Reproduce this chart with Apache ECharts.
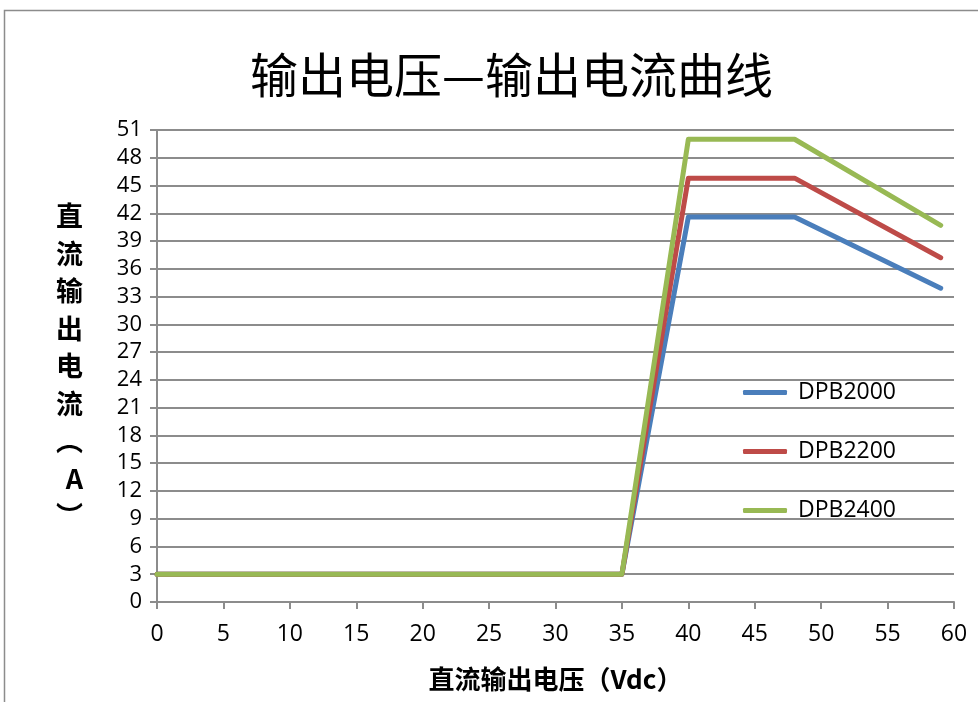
<!DOCTYPE html>
<html>
<head>
<meta charset="utf-8">
<script src="https://cdn.jsdelivr.net/npm/echarts@6/dist/echarts.min.js"></script>
<style>
html,body{margin:0;padding:0;background:#fff;}
#chart{width:978px;height:702px;}
</style>
</head>
<body>
<div id="chart"></div>
<script>
// Output voltage (Vdc) breakpoints shared by every model
const voltage = [0, 35, 40, 48, 59];
// Output current (A) at each breakpoint
const dpb2000 = [3, 3, 41.6, 41.6, 33.9];
const dpb2200 = [3, 3, 45.8, 45.8, 37.2];
const dpb2400 = [3, 3, 50, 50, 40.7];
const seriesNames = ['DPB2000', 'DPB2200', 'DPB2400'];
const seriesColors = ['#4a7ebb', '#be4b48', '#98b954'];

const yName = '直流输出电流︵A︶';

function pairs(ys) { return voltage.map((v, i) => [v, ys[i]]); }

const chart = echarts.init(document.getElementById('chart'), null, { renderer: 'canvas' });
const labelFont = '"Open Sans", "Noto Sans", sans-serif';
const cjkFont = '"Noto Sans CJK SC", sans-serif';

chart.setOption({
  backgroundColor: '#fff',
  animation: false,
  title: {
    text: '输出电压—输出电流曲线',
    left: 245,
    top: 46,
    textStyle: { fontFamily: cjkFont, fontSize: 48, fontWeight: 'normal', color: '#000' }
  },
  graphic: [{
    type: 'rect',
    shape: { x: 4.5, y: 10.5, width: 1000, height: 720 },
    style: { fill: 'none', stroke: '#8c8c8c', lineWidth: 1.5 },
    silent: true
  }],
  legend: {
    orient: 'vertical',
    left: 738,
    top: 376,
    itemWidth: 44,
    itemHeight: 5,
    itemGap: 36,
    icon: 'roundRect',
    data: seriesNames,
    textStyle: { fontFamily: labelFont, fontSize: 23, color: '#000', padding: [0, 0, 0, 6] }
  },
  grid: { left: 157, right: 24, top: 130, bottom: 100, containLabel: false },
  xAxis: {
    type: 'value',
    min: 0, max: 60, interval: 5,
    name: '直流输出电压（Vdc）',
    nameLocation: 'middle',
    nameGap: 64,
    nameTextStyle: { fontFamily: cjkFont, fontSize: 26, fontWeight: 'bold', color: '#000' },
    axisLine: { lineStyle: { color: '#8c8c8c', width: 2 } },
    axisTick: { show: true, length: 7, lineStyle: { color: '#8c8c8c', width: 2 } },
    axisLabel: { fontFamily: labelFont, fontSize: 23, color: '#000', margin: 21 },
    splitLine: { show: false }
  },
  yAxis: {
    type: 'value',
    min: 0, max: 51, interval: 3,
    name: yName.split('').join('\n'),
    nameLocation: 'middle',
    nameRotate: 0,
    nameGap: 74,
    nameTextStyle: { fontFamily: cjkFont, fontSize: 27, fontWeight: 'bold', color: '#000', lineHeight: 37.5 },
    axisLine: { show: true, lineStyle: { color: '#8c8c8c', width: 2 } },
    axisTick: { show: true, length: 7, lineStyle: { color: '#8c8c8c', width: 2 } },
    axisLabel: { fontFamily: labelFont, fontSize: 22, color: '#000', margin: 15 },
    splitLine: { show: true, lineStyle: { color: '#8c8c8c', width: 2 } }
  },
  series: [dpb2000, dpb2200, dpb2400].map((ys, i) => ({
    name: seriesNames[i],
    type: 'line',
    data: pairs(ys),
    symbol: 'none',
    color: seriesColors[i],
    lineStyle: { width: 5, color: seriesColors[i], cap: 'round', join: 'round' }
  }))
});
</script>
</body>
</html>
